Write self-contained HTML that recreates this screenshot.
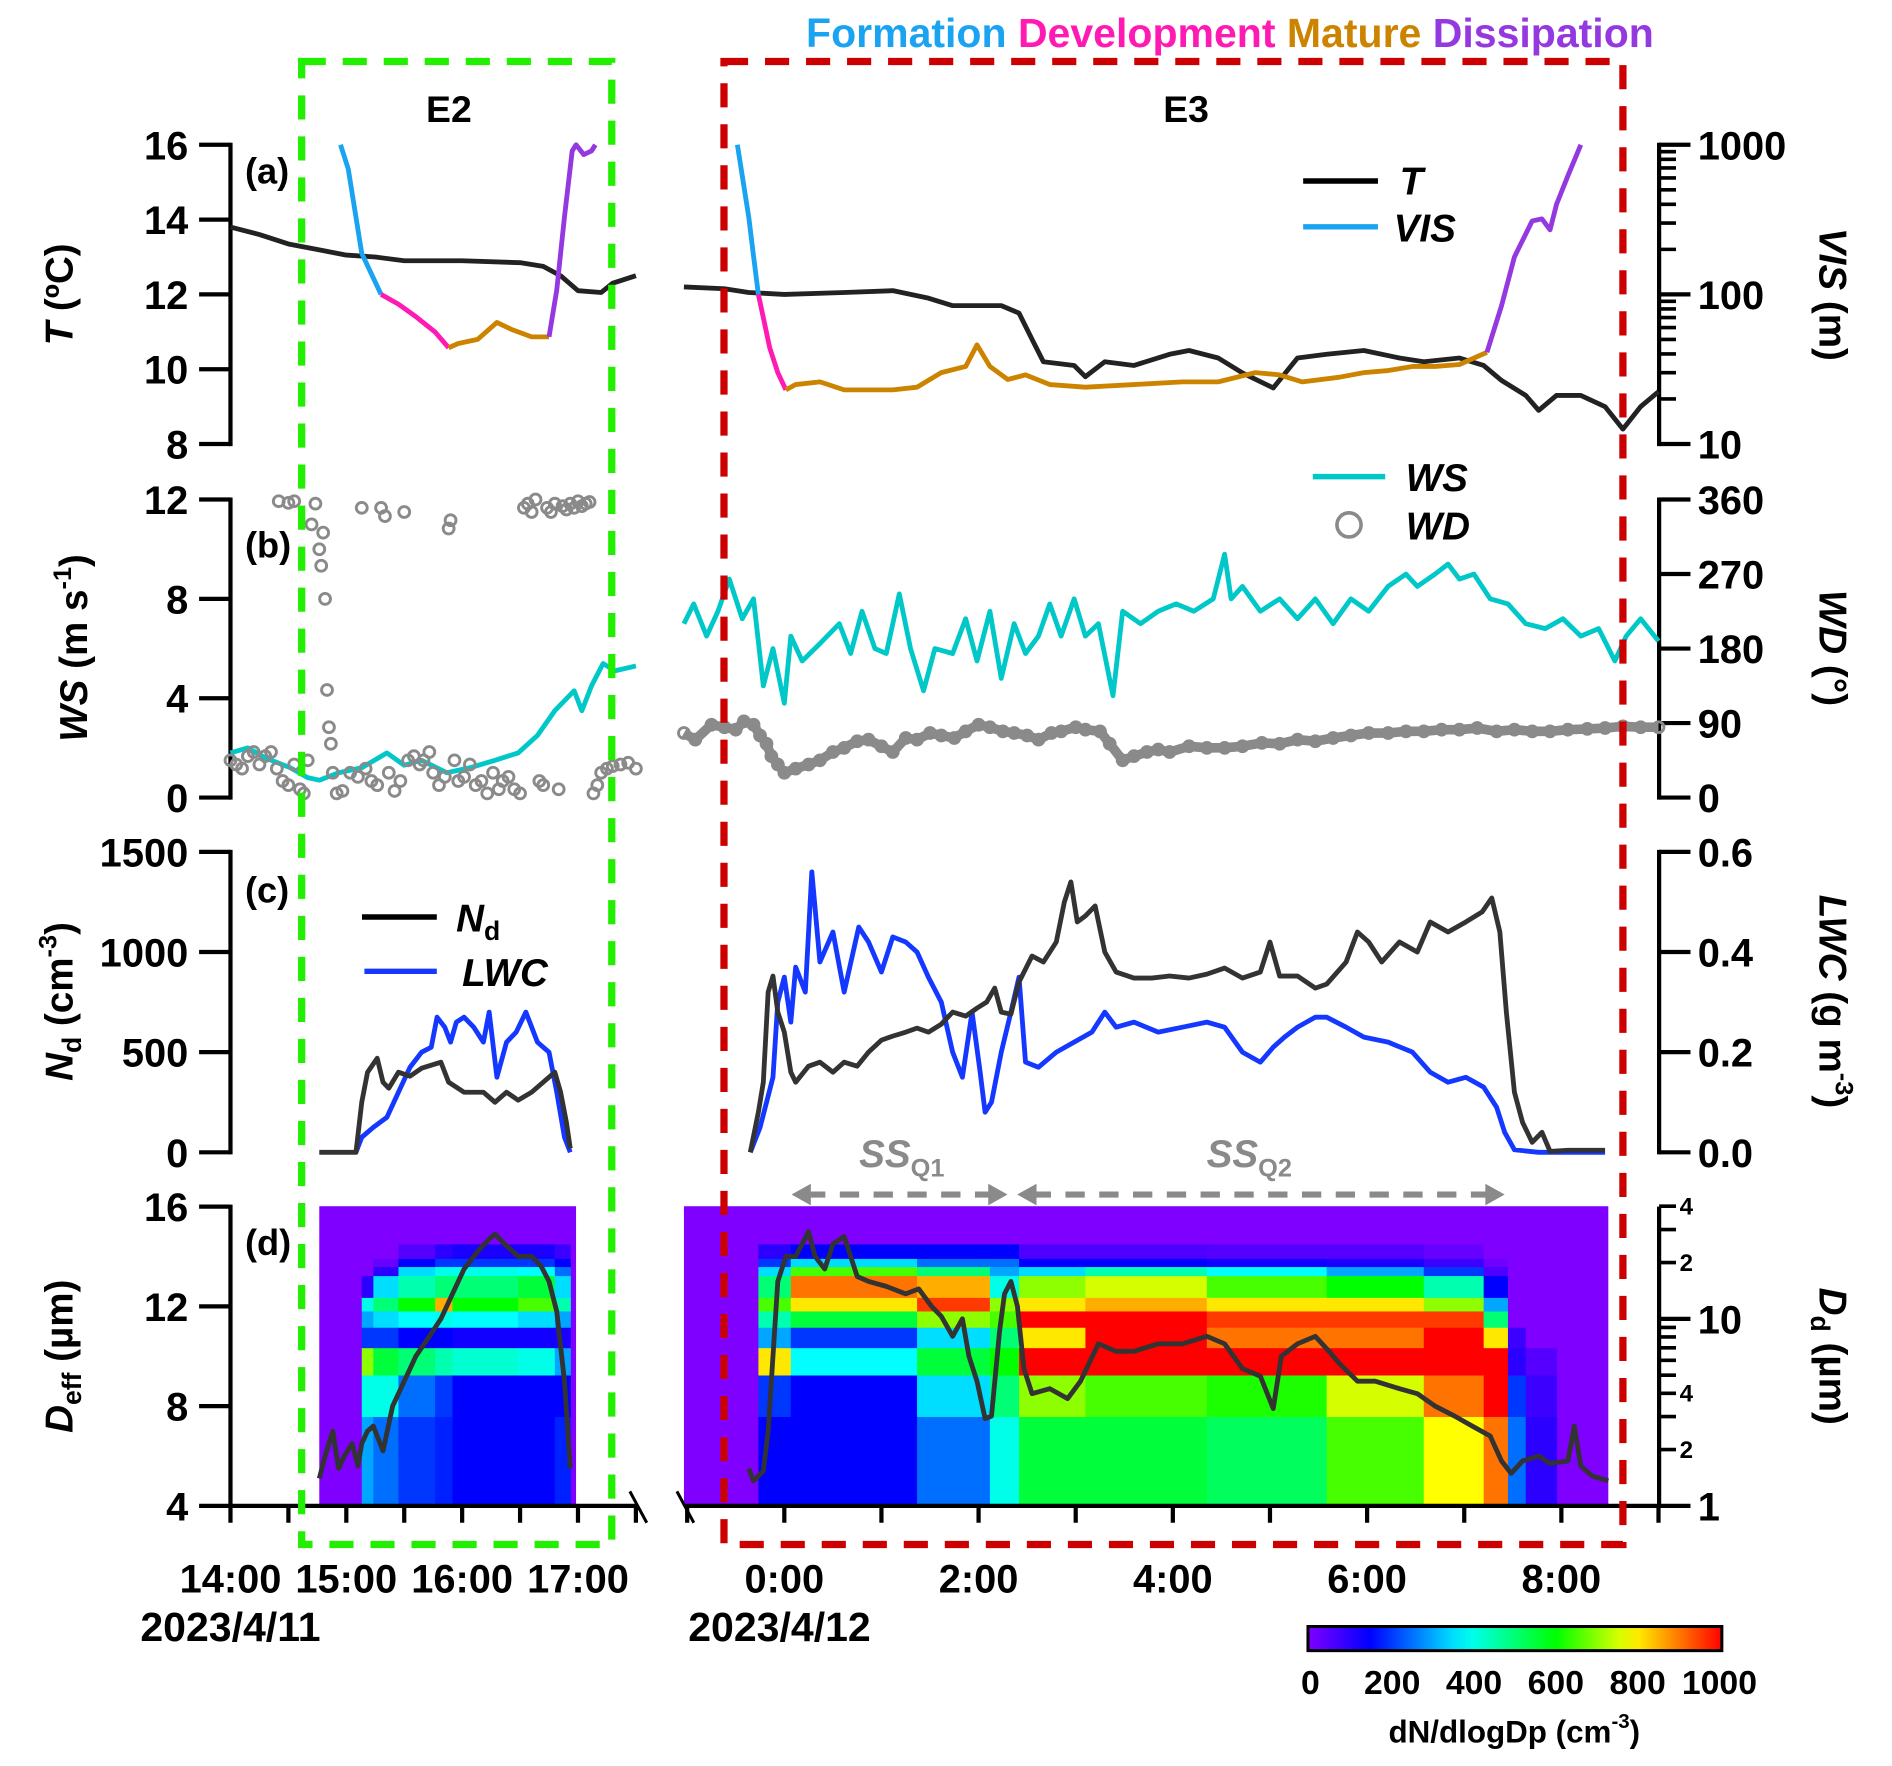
<!DOCTYPE html>
<html><head><meta charset="utf-8"><style>
html,body{margin:0;padding:0;background:#fff;}
svg{display:block;font-family:"Liberation Sans",Arial,sans-serif;font-weight:bold;}
</style></head><body>
<svg id="fig" width="1892" height="1766" viewBox="0 0 1568 1463.6" xmlns="http://www.w3.org/2000/svg">
<g id="heat"></g>
<g id="axes"></g>
<g id="series"></g>
<g id="deco"></g>
</svg>
<script>
// ===== data (time in minutes: E2 from 14:00 on 4/11, E3 from 00:00 on 4/12) =====
const e2Temp=[[0,13.8],[15,13.6],[30,13.35],[45,13.2],[60,13.05],[75,13.0],[90,12.9],[120,12.9],[150,12.85],[162,12.75],[171,12.5],[180,12.1],[192,12.05],[198,12.3],[210,12.5]];
const e2VisFormation=[[57,1000],[61,690],[68,188],[78,100]];
const e2VisDevelopment=[[78,100],[87,86],[96,71],[106,56],[113,44]];
const e2VisMature=[[113,44],[118,47],[128,50],[138,65],[146,58],[156,52],[165,52]];
const e2VisDissipation=[[165,52],[169,107],[173,330],[177,910],[179,1000],[183,860],[187,910],[189,1000]];
const e3Temp=[[-62,12.2],[-37,12.15],[-22,12.05],[0,12.0],[37,12.05],[67,12.1],[89,11.9],[104,11.7],[134,11.7],[145,11.5],[153,10.8],[160,10.2],[179,10.1],[186,9.8],[198,10.2],[216,10.1],[238,10.4],[250,10.5],[268,10.3],[283,9.9],[302,9.5],[317,10.3],[335,10.4],[358,10.5],[380,10.3],[395,10.2],[417,10.3],[432,10.1],[443,9.7],[458,9.3],[466,8.9],[477,9.3],[492,9.3],[507,9.0],[518,8.4],[529,9.0],[540,9.4]];
const e3VisFormation=[[-29,1000],[-22,330],[-19,180],[-16,100]];
const e3VisDevelopment=[[-16,100],[-9,44],[-4,30],[1,23]];
const e3VisMature=[[1,23],[7,25],[22,26],[37,23],[67,23],[82,24],[97,30],[112,33],[119,46],[127,33],[138,27],[149,29],[164,25],[186,24],[216,25],[246,26],[268,26],[291,30],[306,29],[320,26],[343,28],[358,30],[373,31],[388,33],[402,33],[417,34],[434,41]];
const e3VisDissipation=[[434,41],[443,84],[451,178],[462,310],[468,320],[473,270],[477,400],[484,620],[492,1000]];
const e2WS=[[0,1.8],[9,2.0],[18,1.6],[31,1.2],[40,0.8],[46,0.7],[56,1.0],[68,1.2],[81,1.8],[90,1.3],[99,1.5],[112,1.0],[124,1.2],[137,1.5],[149,1.8],[159,2.5],[168,3.5],[178,4.3],[182,3.5],[187,4.5],[193,5.4],[199,5.1],[210,5.3]];
const e2WD=[[0,45],[3,40],[6,35],[9,50],[12,55],[15,40],[18,50],[21,55],[24,35],[25,358],[27,20],[30,15],[30,356],[33,40],[33,358],[36,10],[38,5],[40,45],[42,330],[44,355],[46,300],[47,280],[48,320],[49,240],[50,130],[51,85],[52,65],[53,30],[55,5],[58,8],[62,30],[66,25],[68,350],[70,35],[73,20],[76,15],[78,350],[80,340],[82,30],[85,8],[88,20],[90,345],[92,45],[95,50],[98,40],[100,45],[103,55],[105,30],[108,15],[111,25],[113,325],[114,335],[116,45],[118,20],[121,25],[124,40],[127,15],[130,20],[133,5],[136,30],[139,10],[141,20],[144,25],[147,10],[150,5],[152,350],[154,355],[156,345],[158,360],[160,20],[162,15],[164,350],[166,345],[168,355],[170,10],[172,352],[174,348],[176,355],[178,350],[180,358],[182,352],[184,355],[186,357],[188,5],[190,15],[192,30],[195,35],[198,38],[202,40],[206,42],[210,35]];
const e3WS=[[-62,7.0],[-56,7.8],[-48,6.5],[-41,7.5],[-34,8.8],[-26,7.2],[-19,8.0],[-13,4.5],[-7,6.0],[0,3.8],[4,6.5],[11,5.5],[22,6.2],[34,7.0],[41,5.8],[48,7.5],[56,6.0],[63,5.8],[71,8.2],[78,6.0],[86,4.3],[93,6.0],[104,5.8],[112,7.2],[119,5.5],[127,7.5],[134,4.8],[142,7.0],[149,5.8],[157,6.5],[164,7.8],[171,6.5],[179,8.0],[186,6.5],[194,7.0],[203,4.1],[209,7.5],[220,7.0],[231,7.5],[242,7.8],[253,7.5],[265,8.0],[272,9.8],[276,8.0],[283,8.5],[294,7.5],[306,8.0],[317,7.2],[328,8.0],[339,7.0],[350,8.0],[361,7.5],[373,8.5],[384,9.0],[391,8.5],[402,9.0],[410,9.4],[417,8.8],[426,9.0],[436,8.0],[447,7.8],[458,7.0],[470,6.8],[481,7.2],[492,6.5],[503,6.8],[513,5.5],[520,6.5],[529,7.2],[540,6.3]];
const e3WD=[[-62,78],[-55,70],[-45,88],[-37,85],[-30,82],[-25,92],[-19,88],[-15,75],[-11,65],[-8,50],[-4,40],[0,30],[7,35],[15,40],[22,45],[30,55],[37,60],[45,68],[52,70],[60,62],[67,55],[75,72],[82,70],[90,78],[97,75],[105,72],[112,80],[120,88],[127,85],[135,80],[142,78],[150,75],[157,70],[165,78],[171,80],[180,85],[186,82],[195,80],[201,65],[209,45],[216,50],[224,55],[231,58],[238,55],[250,62],[261,60],[272,60],[283,62],[295,66],[306,65],[317,70],[328,68],[339,72],[350,75],[361,78],[373,78],[384,80],[395,80],[406,82],[417,82],[428,84],[440,80],[451,82],[462,80],[473,80],[484,82],[496,83],[507,84],[518,86],[529,85],[540,85]];
const e2Nd=[[46,0],[65,0],[68,250],[71,400],[76,470],[79,350],[82,320],[87,400],[93,380],[99,420],[109,450],[113,350],[121,300],[131,300],[137,250],[143,300],[149,260],[156,300],[162,350],[168,400],[171,300],[174,150],[176,20]];
const e2LWC=[[65,0],[68,0.03],[74,0.05],[81,0.07],[87,0.12],[93,0.17],[99,0.2],[104,0.21],[107,0.27],[111,0.25],[114,0.22],[117,0.26],[121,0.27],[126,0.25],[131,0.22],[134,0.28],[138,0.15],[143,0.22],[148,0.24],[153,0.28],[159,0.22],[165,0.2],[169,0.12],[173,0.03],[176,0]];
const e3Nd=[[-21,0],[-16,200],[-13,350],[-10,800],[-7,880],[-4,700],[0,600],[4,400],[7,350],[15,430],[22,450],[30,400],[37,450],[45,430],[52,500],[60,560],[67,580],[75,600],[82,620],[89,600],[97,640],[104,700],[112,680],[119,720],[125,750],[130,820],[134,700],[140,690],[145,850],[153,980],[160,950],[168,1050],[173,1250],[177,1350],[181,1150],[186,1180],[192,1230],[198,1000],[205,900],[216,870],[227,870],[238,880],[250,870],[261,890],[272,920],[283,870],[294,900],[300,1050],[306,880],[317,880],[328,820],[335,840],[347,950],[354,1100],[361,1050],[369,950],[380,1050],[391,1000],[399,1150],[410,1100],[421,1150],[431,1200],[437,1270],[442,1100],[446,700],[451,300],[456,150],[462,50],[468,100],[473,5],[484,10],[507,10]];
const e3LWC=[[-21,0],[-15,0.05],[-7,0.15],[-4,0.3],[0,0.35],[4,0.26],[7,0.37],[13,0.32],[17,0.56],[22,0.38],[30,0.44],[37,0.32],[46,0.45],[52,0.42],[60,0.36],[67,0.43],[75,0.42],[82,0.4],[89,0.35],[97,0.3],[104,0.2],[110,0.15],[116,0.28],[121,0.16],[124,0.08],[128,0.1],[134,0.2],[140,0.28],[145,0.35],[149,0.18],[157,0.17],[168,0.2],[179,0.22],[190,0.24],[198,0.28],[205,0.25],[216,0.26],[231,0.24],[246,0.25],[261,0.26],[272,0.25],[283,0.2],[294,0.18],[302,0.21],[309,0.23],[317,0.25],[328,0.27],[335,0.27],[347,0.25],[358,0.23],[373,0.22],[388,0.2],[399,0.16],[410,0.14],[421,0.15],[432,0.13],[440,0.09],[445,0.04],[451,0.005],[466,0],[507,0]];
const e2Deff=[[46,5.1],[49,6.0],[53,7.0],[56,5.5],[59,6.0],[63,6.5],[66,5.6],[68,6.5],[71,7.0],[74,7.2],[79,6.2],[84,8.0],[90,9.0],[96,10.0],[103,10.8],[109,11.5],[115,12.5],[121,13.5],[128,14.2],[134,14.7],[137,14.9],[142,14.5],[149,14.0],[156,14.0],[161,13.6],[165,13.0],[169,11.8],[173,9.0],[176,5.5]];
const e3Deff=[[-22,5.5],[-19,5.0],[-13,5.4],[-10,7.0],[-7,10.0],[-4,13.0],[1,14.0],[7,14.0],[15,15.0],[19,14.0],[25,13.5],[30,14.5],[37,14.8],[45,13.2],[52,13.0],[63,12.8],[75,12.5],[83,12.7],[91,12.0],[97,11.6],[104,10.8],[110,11.5],[114,10.0],[119,9.0],[124,7.5],[128,7.6],[133,11.0],[136,12.5],[140,13.0],[144,12.0],[148,9.5],[153,8.5],[164,8.7],[175,8.3],[183,9.0],[194,10.5],[205,10.2],[216,10.2],[231,10.5],[246,10.5],[261,10.8],[272,10.5],[283,9.5],[294,9.2],[302,7.9],[307,10.0],[317,10.5],[328,10.8],[335,10.3],[343,9.7],[354,9.0],[365,9.0],[380,8.7],[391,8.5],[402,8.0],[414,7.6],[425,7.2],[436,6.8],[443,5.8],[449,5.3],[456,5.8],[466,6.0],[473,5.7],[484,5.8],[488,7.2],[492,5.6],[499,5.2],[509,5.0]];
// heatmap: droplet size bin edges (um) and segment values (dN/dlogDp) per bin (bottom to top)
const binEdges=[1,3,5,7,9,11,13,17,19,21,25];
const e2HeatStart=[68,74,87,106,115,149,168];
const e2HeatEnd=[74,87,106,115,149,168,176];
const e2HeatVals=[
[300,400,700,200,300,400,100,0,0,0],
[250,400,550,200,350,500,350,100,30,0],
[200,250,500,150,380,600,450,350,150,50],
[180,200,450,150,400,850,500,400,200,100],
[150,150,420,130,380,600,500,400,200,120],
[150,150,400,130,350,650,550,380,200,120],
[180,150,300,120,300,450,350,250,150,80]];
const e3HeatStart=[-16,4,82,127,145,186,261,335,395,432,447,458];
const e3HeatEnd=[4,82,127,145,186,261,335,395,432,447,458,477];
const e3HeatVals=[
[150,200,800,300,450,650,500,350,200,100],
[150,150,380,200,550,800,900,650,350,150],
[250,350,550,350,700,950,850,500,250,150],
[400,500,600,500,650,700,400,300,250,150],
[550,700,1000,800,1000,800,700,350,150,60],
[550,650,1000,1000,1000,850,750,450,150,60],
[520,620,1000,900,950,800,650,380,130,50],
[650,750,1000,900,950,800,600,300,120,50],
[780,900,1000,1000,950,700,450,200,80,30],
[900,1000,1000,800,500,300,150,60,20,0],
[250,200,100,80,0,0,0,0,0,0],
[100,80,50,0,0,0,0,0,0,0]];
const colorTicks=[0,200,400,600,800,1000];
const e2TimeLabels=["14:00","15:00","16:00","17:00"];
const e3TimeLabels=["0:00","2:00","4:00","6:00","8:00"];

// ===== scales =====
const NS='http://www.w3.org/2000/svg';
const xL=m=>191+m*96/60, xR=m=>650+m*80.5/60;
const yT=v=>120+(16-v)*31, yVIS=v=>120+(3-Math.log10(v))*124;
const yWS=v=>661-v*247/12, yWD=v=>661-v*247/360;
const yNd=v=>955-v*249/1500, yLWC=v=>955-v*249/0.6;
const yDeff=v=>1248-(v-4)*248/12, yDd=d=>1248-155*Math.log10(d);
function mk(tag,attrs,parent,text){const e=document.createElementNS(NS,tag);for(const k in attrs)e.setAttribute(k,attrs[k]);if(text!==undefined)e.textContent=text;(parent||document.getElementById('fig')).appendChild(e);return e;}
function cmap(v){const st=[[0,[128,0,255]],[150,[0,0,255]],[380,[0,255,255]],[600,[0,255,0]],[780,[255,255,0]],[1000,[255,0,0]]];v=Math.max(0,Math.min(1000,v));for(let i=1;i<st.length;i++){if(v<=st[i][0]){const a=st[i-1],b=st[i],t=(v-a[0])/(b[0]-a[0]);return 'rgb('+a[1].map((c,j)=>Math.round(c+(b[1][j]-c)*t)).join(',')+')';}}return 'rgb(255,0,0)';}
const heat=document.getElementById('heat'),axes=document.getElementById('axes'),series=document.getElementById('series'),deco=document.getElementById('deco');

let bg=mk('rect',{x:xL(46),y:yDd(40),width:xL(179)-xL(46),height:1248-yDd(40),fill:'#8000ff'},heat);


bg=mk('rect',{x:xR(-62),y:yDd(40),width:xR(509)-xR(-62),height:1248-yDd(40),fill:'#8000ff'},heat);


function drawHeat(starts,ends,vals,xs,tag){
  starts.forEach((s,i)=>{vals[i].forEach((v,b)=>{
    const r=mk('rect',{x:xs(s),y:yDd(binEdges[b+1]),width:xs(ends[i])-xs(s)+0.5,height:yDd(binEdges[b])-yDd(binEdges[b+1])+0.3,fill:cmap(v)},heat);
    
    
  });});
}
drawHeat(e2HeatStart,e2HeatEnd,e2HeatVals,xL,'e2');
drawHeat(e3HeatStart,e3HeatEnd,e3HeatVals,xR,'e3');

function line(data,xs,ys,color,w,name){
  const p=mk('polyline',{points:data.map(d=>xs(d[0]).toFixed(1)+','+ys(d[1]).toFixed(1)).join(' '),fill:'none',stroke:color,'stroke-width':w,'stroke-linejoin':'round'},series);
  
  
}
function dots(data,xs,ys,name){
  data.forEach(d=>{const c=mk('circle',{cx:xs(d[0]),cy:ys(d[1]),r:4.5,fill:'none',stroke:'#8a8a8a','stroke-width':2.4},series);
    
    });
}
const cF='#1aa3f0',cD='#ff1ab3',cM='#cc8400',cX='#9438e0',cWS='#00c8c8',cLWC='#1438ff';
const LW=4;
line(e2Temp,xL,yT,'#222',LW,'e2-temperature-line');
line(e3Temp,xR,yT,'#222',LW,'e3-temperature-line');
line(e2VisFormation,xL,yVIS,cF,LW,'e2-vis-formation');
line(e2VisDevelopment,xL,yVIS,cD,LW,'e2-vis-development');
line(e2VisMature,xL,yVIS,cM,LW,'e2-vis-mature');
line(e2VisDissipation,xL,yVIS,cX,LW,'e2-vis-dissipation');
line(e3VisFormation,xR,yVIS,cF,LW,'e3-vis-formation');
line(e3VisDevelopment,xR,yVIS,cD,LW,'e3-vis-development');
line(e3VisMature,xR,yVIS,cM,LW,'e3-vis-mature');
line(e3VisDissipation,xR,yVIS,cX,LW,'e3-vis-dissipation');
line(e2WS,xL,yWS,cWS,LW,'e2-wind-speed-line');
line(e3WS,xR,yWS,cWS,LW,'e3-wind-speed-line');
line(e3WD,xR,yWD,'#8a8a8a',8,'e3-wind-direction-band');
dots(e2WD,xL,yWD,'e2-wind-direction-point');
dots(e3WD,xR,yWD,'e3-wind-direction-point');
line(e2LWC,xL,yLWC,cLWC,LW,'e2-lwc-line');
line(e2Nd,xL,yNd,'#333',LW,'e2-nd-line');
line(e3LWC,xR,yLWC,cLWC,LW,'e3-lwc-line');
line(e3Nd,xR,yNd,'#333',LW,'e3-nd-line');
line(e2Deff,xL,yDeff,'#333',LW,'e2-deff-line');
line(e3Deff,xR,yDeff,'#333',LW,'e3-deff-line');

// ===== axes =====
const AX='#000';
function ln(x1,y1,x2,y2,w,name,color){const l=mk('line',{x1,y1,x2,y2,stroke:color||AX,'stroke-width':w||3.5},axes);
  
  return l;}
function tx(x,y,s,size,anchor,name,extra,parent){const t=mk('text',Object.assign({x,y,'font-size':size,'text-anchor':anchor||'middle',fill:'#000'},extra||{}),parent||axes,s);
  
  return t;}
function leftAxis(y0,y1,ticks,name){ln(191,y0-1.7,191,y1+1.7,3.5,name+'-line');ticks.forEach(t=>{ln(165,t[0],191,t[0],3.5,name+'-tick');tx(156,t[0]+12,t[1],33,'end',name+'-label');});}
function rightAxis(y0,y1,ticks,name){ln(1375,y0-1.7,1375,y1+1.7,3.5,name+'-line');ticks.forEach(t=>{ln(1375,t[0],1401,t[0],3.5,name+'-tick');tx(1407,t[0]+12,t[1],33,'start',name+'-label');});}
leftAxis(120,368,[16,14,12,10,8].map(v=>[yT(v),String(v)]),'t-axis');
leftAxis(414,661,[12,8,4,0].map(v=>[yWS(v),String(v)]),'ws-axis');
leftAxis(706,955,[1500,1000,500,0].map(v=>[yNd(v),String(v)]),'nd-axis');
leftAxis(1000,1248,[16,12,8,4].map(v=>[yDeff(v),String(v)]),'deff-axis');
rightAxis(120,368,[1000,100,10].map(v=>[yVIS(v),String(v)]),'vis-axis');
for(let d=1;d<3;d++)for(let k=2;k<10;k++){const y=yVIS(k*Math.pow(10,d));ln(1375,y,1389,y,3,'vis-minor-tick');}
rightAxis(414,661,[360,270,180,90,0].map(v=>[yWD(v),String(v)]),'wd-axis');
rightAxis(706,955,[0.6,0.4,0.2,0.0].map(v=>[yLWC(v),v.toFixed(1)]),'lwc-axis');
ln(1375,1000,1375,1249.7,3.5,'dd-axis-line');
[1,10].forEach(v=>{ln(1375,yDd(v),1401,yDd(v),3.5,'dd-axis-tick');tx(1407,yDd(v)+12,String(v),33,'start','dd-axis-label');});
[2,3,4,5,6,7,8,9,20,30,40].forEach(v=>ln(1375,yDd(v),1389,yDd(v),3,'dd-minor-tick'));
[[2,'2'],[4,'4'],[20,'2'],[40,'4']].forEach(t=>tx(1392,yDd(t[0])+7,t[1],20,'start','dd-minor-label'));
// bottom axis
ln(189.3,1248,527,1248,3.5,'x-axis-e2-line');
ln(567,1248,1376.7,1248,3.5,'x-axis-e3-line');
for(let m=0;m<=210;m+=30){ln(xL(m),1248,xL(m),1262,3.5,'x-axis-e2-tick');}
for(let m=-60;m<=540;m+=60){ln(xR(m),1248,xR(m),1262,3.5,'x-axis-e3-tick');}
ln(522,1236,536,1262,2.5,'axis-break-left');
ln(561,1236,575,1262,2.5,'axis-break-right');
e2TimeLabels.forEach((s,i)=>tx(xL(i*60),1320,s,33,'middle','x-axis-e2-label'));
e3TimeLabels.forEach((s,i)=>tx(xR(i*120),1320,s,33,'middle','x-axis-e3-label'));
tx(191,1360,'2023/4/11',34,'middle','date-label-e2');
tx(646,1360,'2023/4/12',34,'middle','date-label-e3');
// axis titles
function vt(x,y,rot,parts,name){const t=mk('text',{transform:`translate(${x},${y}) rotate(${rot})`,'font-size':32,'text-anchor':'middle',fill:'#000'},axes);
  
  
  parts.forEach(p=>{mk('tspan',p[1]||{},t,p[0]);});}
vt(60,244,-90,[['T',{'font-style':'italic'}],[' (ºC)']],'t-axis-title');
vt(72,537,-90,[['WS',{'font-style':'italic'}],[' (m s'],['-1',{'font-size':21,dy:-13}],[')',{dy:13}]],'ws-axis-title');
vt(60,830,-90,[['N',{'font-style':'italic'}],['d',{'font-size':22,dy:7}],[' (cm',{dy:-7}],['-3',{'font-size':21,dy:-13}],[')',{dy:13}]],'nd-axis-title');
vt(60,1124,-90,[['D',{'font-style':'italic'}],['eff',{'font-size':22,dy:7}],[' (µm)',{dy:-7}]],'deff-axis-title');
vt(1508,244,90,[['VIS',{'font-style':'italic'}],[' (m)']],'vis-axis-title');
vt(1508,537,90,[['WD',{'font-style':'italic'}],[' (°)']],'wd-axis-title');
vt(1508,830,90,[['LWC',{'font-style':'italic'}],[' (g m'],['-3',{'font-size':21,dy:-13}],[')',{dy:13}]],'lwc-axis-title');
vt(1508,1124,90,[['D',{'font-style':'italic'}],['d',{'font-size':22,dy:7}],[' (µm)',{dy:-7}]],'dd-axis-title');
// panel letters
[['(a)',152],['(b)',462],['(c)',748],['(d)',1040]].forEach(p=>tx(203,p[1],p[0],30,'start','panel-label'));

// ===== legends =====
function legLine(x1,x2,y,color,name){const l=mk('line',{x1,y1:y,x2,y2:y,stroke:color,'stroke-width':4.5},deco);
  
  }
legLine(1080,1142,150,'#000','legend-t-swatch');tx(1160,161,'T',32,'start','legend-t-label',{'font-style':'italic'},deco);
legLine(1080,1142,188,cF,'legend-vis-swatch');tx(1155,200,'VIS',32,'start','legend-vis-label',{'font-style':'italic'},deco);
legLine(1088,1148,395,cWS,'legend-ws-swatch');tx(1165,407,'WS',32,'start','legend-ws-label',{'font-style':'italic'},deco);
let lc=mk('circle',{cx:1118,cy:435,r:10,fill:'none',stroke:'#8a8a8a','stroke-width':3},deco);


tx(1165,447,'WD',32,'start','legend-wd-label',{'font-style':'italic'},deco);
legLine(300,362,760,'#000','legend-nd-swatch');
let nt=tx(378,772,'N',32,'start','legend-nd-label',{'font-style':'italic'},deco);
mk('tspan',{'font-size':22,dy:7,'font-style':'normal'},nt,'d');
legLine(302,362,805,cLWC,'legend-lwc-swatch');tx(383,817,'LWC',32,'start','legend-lwc-label',{'font-style':'italic'},deco);

// SS arrows
function arrow(x1,x2,y,name){const l=mk('line',{x1:x1+12,y1:y,x2:x2-12,y2:y,stroke:'#8a8a8a','stroke-width':5,'stroke-dasharray':'16 12'},deco);
  
  
  const a=mk('polygon',{points:`${x1},${y} ${x1+16},${y-9} ${x1+16},${y+9}`,fill:'#8a8a8a'},deco);
  
  
  const b=mk('polygon',{points:`${x2},${y} ${x2-16},${y-9} ${x2-16},${y+9}`,fill:'#8a8a8a'},deco);
  
  }
arrow(656,835,990,'ssq1-arrow');arrow(843,1247,990,'ssq2-arrow');
let s1=tx(712,967,'SS',32,'start','ssq1-label',{'font-style':'italic',fill:'#8a8a8a'},deco);mk('tspan',{'font-size':21,dy:8,'font-style':'normal'},s1,'Q1');
let s2=tx(1000,967,'SS',32,'start','ssq2-label',{'font-style':'italic',fill:'#8a8a8a'},deco);mk('tspan',{'font-size':21,dy:8,'font-style':'normal'},s2,'Q2');

// event boxes
let gb=mk('rect',{x:250,y:51,width:257,height:1229,fill:'none',stroke:'#22ee00','stroke-width':6,'stroke-dasharray':'20 14'},deco);


let rb=mk('rect',{x:600,y:51,width:745,height:1229,fill:'none',stroke:'#cc0000','stroke-width':6,'stroke-dasharray':'20 14'},deco);


tx(372,101,'E2',31,'middle','e2-label',{},deco);
tx(983,101,'E3',31,'middle','e3-label',{},deco);
// phase title
let ph=tx(668,39,'',34,'start','fog-phase-title',{},deco);
[['Formation',cF],[' Development',cD],[' Mature',cM],[' Dissipation',cX]].forEach(p=>mk('tspan',{fill:p[1]},ph,p[0]));

// colorbar
const defs=mk('defs',{},deco);
const gr=mk('linearGradient',{id:'cbg',x1:0,x2:1,y1:0,y2:0},defs);
for(let v=0;v<=1000;v+=50){mk('stop',{offset:v/1000,'stop-color':cmap(v)},gr);}
let cb=mk('rect',{x:1084,y:1348,width:343,height:20,fill:'url(#cbg)',stroke:'#000','stroke-width':2.5},deco);


colorTicks.forEach(v=>{const x=1086+v*0.339;tx(x,1404,String(v),28,'middle','colorbar-tick-label',{},deco);});
let ct=tx(1255,1444,'dN/dlogDp (cm',26,'middle','colorbar-title',{},deco);
mk('tspan',{'font-size':17,dy:-12},ct,'-3');mk('tspan',{dy:12},ct,')');
</script>
</body></html>
